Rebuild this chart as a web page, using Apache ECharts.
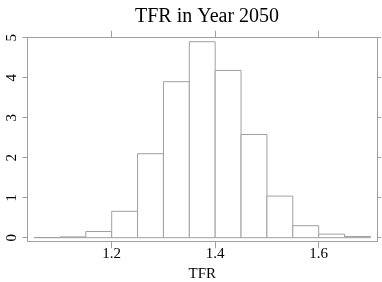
<!DOCTYPE html>
<html>
<head>
<meta charset="utf-8">
<script src="https://cdn.jsdelivr.net/npm/echarts@6/dist/echarts.min.js"></script>
<style>html,body{margin:0;padding:0;background:#fff;}#c{width:382px;height:282px;}</style>
</head>
<body>
<div id="c"></div>
<script>
const binStarts = [1.05, 1.10, 1.15, 1.20, 1.25, 1.30, 1.35, 1.40, 1.45, 1.50, 1.55, 1.60, 1.65];
const binWidth = 0.05;
const density = [0.005, 0.02, 0.155, 0.66, 2.10, 3.90, 4.90, 4.18, 2.58, 1.04, 0.30, 0.09, 0.03];
const xTicks = [1.2, 1.4, 1.6];
const yTicks = [0, 1, 2, 3, 4, 5];

const data = binStarts.map((s, i) => [s, s + binWidth, density[i]]);
const font = 'Liberation Serif';
const lineC = '#a0a0a0';

const chart = echarts.init(document.getElementById('c'), null, {renderer: 'canvas'});
chart.setOption({
  animation: false,
  backgroundColor: '#fff',
  title: {
    text: 'TFR in Year 2050', left: 202, textAlign: 'center', top: 2,
    textStyle: {fontFamily: font, fontSize: 20, fontWeight: 'normal', color: '#000'}
  },
  grid: {left: 27.5, right: 5, top: 37.7, bottom: 40.7, show: false, containLabel: false, outerBoundsMode: 'none'},
  xAxis: [{
    type: 'value', min: 1.0373, max: 1.7127, position: 'bottom',
    name: 'TFR', nameLocation: 'middle', nameGap: 25,
    nameTextStyle: {fontFamily: font, fontSize: 15, color: '#000'},
    axisLine: {show: true, onZero: false, lineStyle: {color: lineC}},
    axisTick: {show: true, length: 7, customValues: xTicks, lineStyle: {color: lineC}},
    axisLabel: {customValues: xTicks, fontFamily: font, fontSize: 15, color: '#000', margin: 5,
      formatter: v => v.toFixed(1)},
    splitLine: {show: false}
  }, {
    type: 'value', min: 1.0373, max: 1.7127, position: 'top',
    axisLine: {show: true, onZero: false, lineStyle: {color: lineC}},
    axisTick: {show: true, length: 7, customValues: xTicks, lineStyle: {color: lineC}},
    axisLabel: {show: false}, splitLine: {show: false}
  }],
  yAxis: [{
    type: 'value', min: -0.09, max: 5.0, position: 'left',
    axisLine: {show: true, onZero: false, lineStyle: {color: lineC}},
    axisTick: {show: true, length: 5, customValues: yTicks, lineStyle: {color: lineC}},
    axisLabel: {customValues: yTicks, rotate: 90, fontFamily: font, fontSize: 15, color: '#000', margin: 8},
    splitLine: {show: false}
  }, {
    type: 'value', min: -0.09, max: 5.0, position: 'right',
    axisLine: {show: true, onZero: false, lineStyle: {color: lineC}},
    axisTick: {show: true, length: 4, customValues: yTicks, lineStyle: {color: lineC}},
    axisLabel: {show: false}, splitLine: {show: false}
  }],
  series: [{
    type: 'custom',
    xAxisIndex: 0, yAxisIndex: 0,
    data: data,
    renderItem: function (params, api) {
      const p0 = api.coord([api.value(0), api.value(2)]);
      const p1 = api.coord([api.value(1), 0]);
      return {
        type: 'rect',
        shape: {x: p0[0], y: p0[1], width: p1[0] - p0[0], height: p1[1] - p0[1]},
        style: {fill: '#fff', stroke: lineC, lineWidth: 1}
      };
    }
  }]
});
</script>
</body>
</html>
